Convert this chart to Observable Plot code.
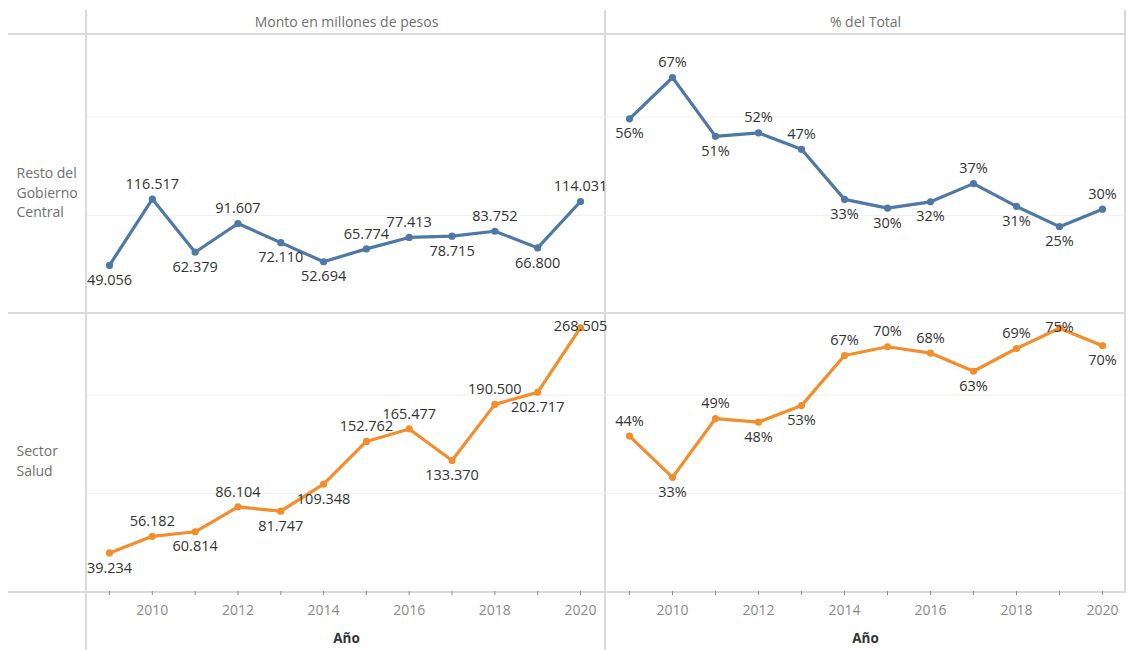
<!DOCTYPE html>
<html>
<head>
<meta charset="utf-8">
<script src="https://cdn.jsdelivr.net/npm/d3@7"></script>
<script src="https://cdn.jsdelivr.net/npm/@observablehq/plot@0.6"></script>
<style>
  html, body { margin: 0; padding: 0; background: #ffffff; }
  #wrap { position: relative; width: 1127px; height: 650px; overflow: hidden; }
  .ln { position: absolute; background: #dadada; }
  #wrap svg { position: absolute; top: 0; }
  svg [aria-label="x-axis tick"] { stroke: #dedede; }
</style>
</head>
<body>
<div id="wrap"></div>
<script>
// ---------------- data ----------------
const years = [2009, 2010, 2011, 2012, 2013, 2014, 2015, 2016, 2017, 2018, 2019, 2020];
const sectors = ["Resto del Gobierno Central", "Sector Salud"];
const measures = ["Monto en millones de pesos", "% del Total"];
const xTickYears = [2009, 2010, 2011, 2012, 2013, 2014, 2015, 2016, 2017, 2018, 2019, 2020];
const xLabel = "Año";

// Monto en millones de pesos
const restoMonto = [49056, 116517, 62379, 91607, 72110, 52694, 65774, 77413, 78715, 83752, 66800, 114031];
const saludMonto = [39234, 56182, 60814, 86104, 81747, 109348, 152762, 165477, 133370, 190500, 202717, 268505];
// % del Total (estimated to one decimal; labels shown rounded)
const restoPct = [55.6, 67.4, 50.6, 51.6, 46.9, 32.6, 30.1, 31.9, 37.1, 30.6, 24.8, 29.8];
const saludPct = [44.4, 32.6, 49.4, 48.4, 53.1, 67.4, 69.9, 68.1, 62.9, 69.4, 75.2, 70.2];

const montoGrid = [100000, 200000];
const montoMax = 283000;
const pctMax = 79.4;

const sectorColors = ["#4e79a7", "#f28e2b"];

// ---------------- layout ----------------
const H = 650, TOP = 35, BOTTOM = 591;
const ROW_H = (BOTTOM - TOP) / 2;
const esLocale = d3.formatLocale({decimal: ",", thousands: ".", grouping: [3], currency: ["$", ""]});
const fmtMonto = esLocale.format(",d");
const fmtPct = v => Math.round(v) + "%";

function rowsFor(measure, series, yMax, fmt) {
  const out = [];
  sectors.forEach((s, si) => {
    const vals = series[si];
    vals.forEach((v, i) => {
      const prev = vals[i - 1], next = vals[i + 1];
      const ref = prev === undefined ? next : next === undefined ? prev : (prev + next) / 2;
      let pos = v > ref ? "above" : "below";
      if (pos === "above" && (1 - v / yMax) * ROW_H < 16) pos = "top";
      out.push({measure, sector: s, year: years[i], value: v, label: fmt(v), pos});
    });
  });
  return out;
}

function panel({measure, data, yMax, grid, width, marginLeft, marginRight, insetLeft, insetRight, rowLabels}) {
  const common = {x: "year", y: "value", fx: "measure", fy: "sector"};
  const lbl = {...common, text: "label", fill: "#333333", fontSize: 14.5};
  const marks = [
    Plot.ruleY(grid, {stroke: "#efefef", strokeWidth: 1}),
    Plot.line(data, {...common, stroke: "sector", strokeWidth: 3.2}),
    Plot.dot(data, {...common, fill: "sector", r: 3.6}),
    Plot.text(data.filter(d => d.pos === "above"), {...lbl, dy: -15}),
    Plot.text(data.filter(d => d.pos === "below"), {...lbl, dy: 15}),
    Plot.text(data.filter(d => d.pos === "top"), {...lbl, dy: -1}),
    Plot.text([measure], {fx: d => d, fy: () => sectors[0], frameAnchor: "top", dy: -18, fill: "#707070", fontSize: 14}),
    Plot.text([xLabel], {fx: () => measure, fy: () => sectors[1], frameAnchor: "bottom", dy: 51, fill: "#333333", fontWeight: "bold", fontSize: 13.5})
  ];
  if (rowLabels) {
    marks.push(Plot.text(sectors, {
      fx: () => measure, fy: d => d, text: d => d,
      frameAnchor: "left", dx: -71, dy: -10, textAnchor: "start", lineAnchor: "top",
      lineWidth: 6, lineHeight: 1.38, fill: "#707070", fontSize: 14
    }));
  }
  return Plot.plot({
    width, height: H,
    marginTop: TOP, marginBottom: H - BOTTOM, marginLeft, marginRight,
    style: {fontFamily: "'Open Sans', sans-serif", fontSize: "14px", color: "#8a8a8a", background: "transparent", overflow: "visible"},
    fx: {domain: [measure], axis: null, padding: 0},
    fy: {domain: sectors, axis: null, padding: 0},
    x: {domain: [years[0], years[years.length - 1]], insetLeft, insetRight,
        ticks: xTickYears, tickFormat: d => (d % 2 === 0 ? String(d) : ""),
        tickSize: 4, tickPadding: 10, label: null},
    y: {domain: [0, yMax], axis: null},
    color: {domain: sectors, range: sectorColors},
    marks
  });
}

const wrap = document.getElementById("wrap");
// pane divider lines (layout decoration)
[[8, 33, 1118, 2], [8, 312, 1118, 2], [8, 591, 1118, 2],
 [85, 10, 2, 640], [604, 10, 2, 640], [1124, 10, 2, 583]].forEach(([l, t, w, h]) => {
  const d = document.createElement("div");
  d.className = "ln";
  Object.assign(d.style, {left: l + "px", top: t + "px", width: w + "px", height: h + "px"});
  wrap.appendChild(d);
});

const leftData = rowsFor(measures[0], [restoMonto, saludMonto], montoMax, fmtMonto);
const rightData = rowsFor(measures[1], [restoPct, saludPct], pctMax, fmtPct);

const left = panel({
  measure: measures[0], data: leftData, yMax: montoMax, grid: montoGrid,
  width: 605, marginLeft: 87, marginRight: 0, insetLeft: 22, insetRight: 25, rowLabels: true
});
left.style.left = "0px";
wrap.appendChild(left);

const right = panel({
  measure: measures[1], data: rightData, yMax: pctMax, grid: montoGrid.map(v => v / montoMax * pctMax),
  width: 522, marginLeft: 0, marginRight: 2, insetLeft: 24, insetRight: 23, rowLabels: false
});
right.style.left = "605px";
wrap.appendChild(right);
</script>
</body>
</html>
